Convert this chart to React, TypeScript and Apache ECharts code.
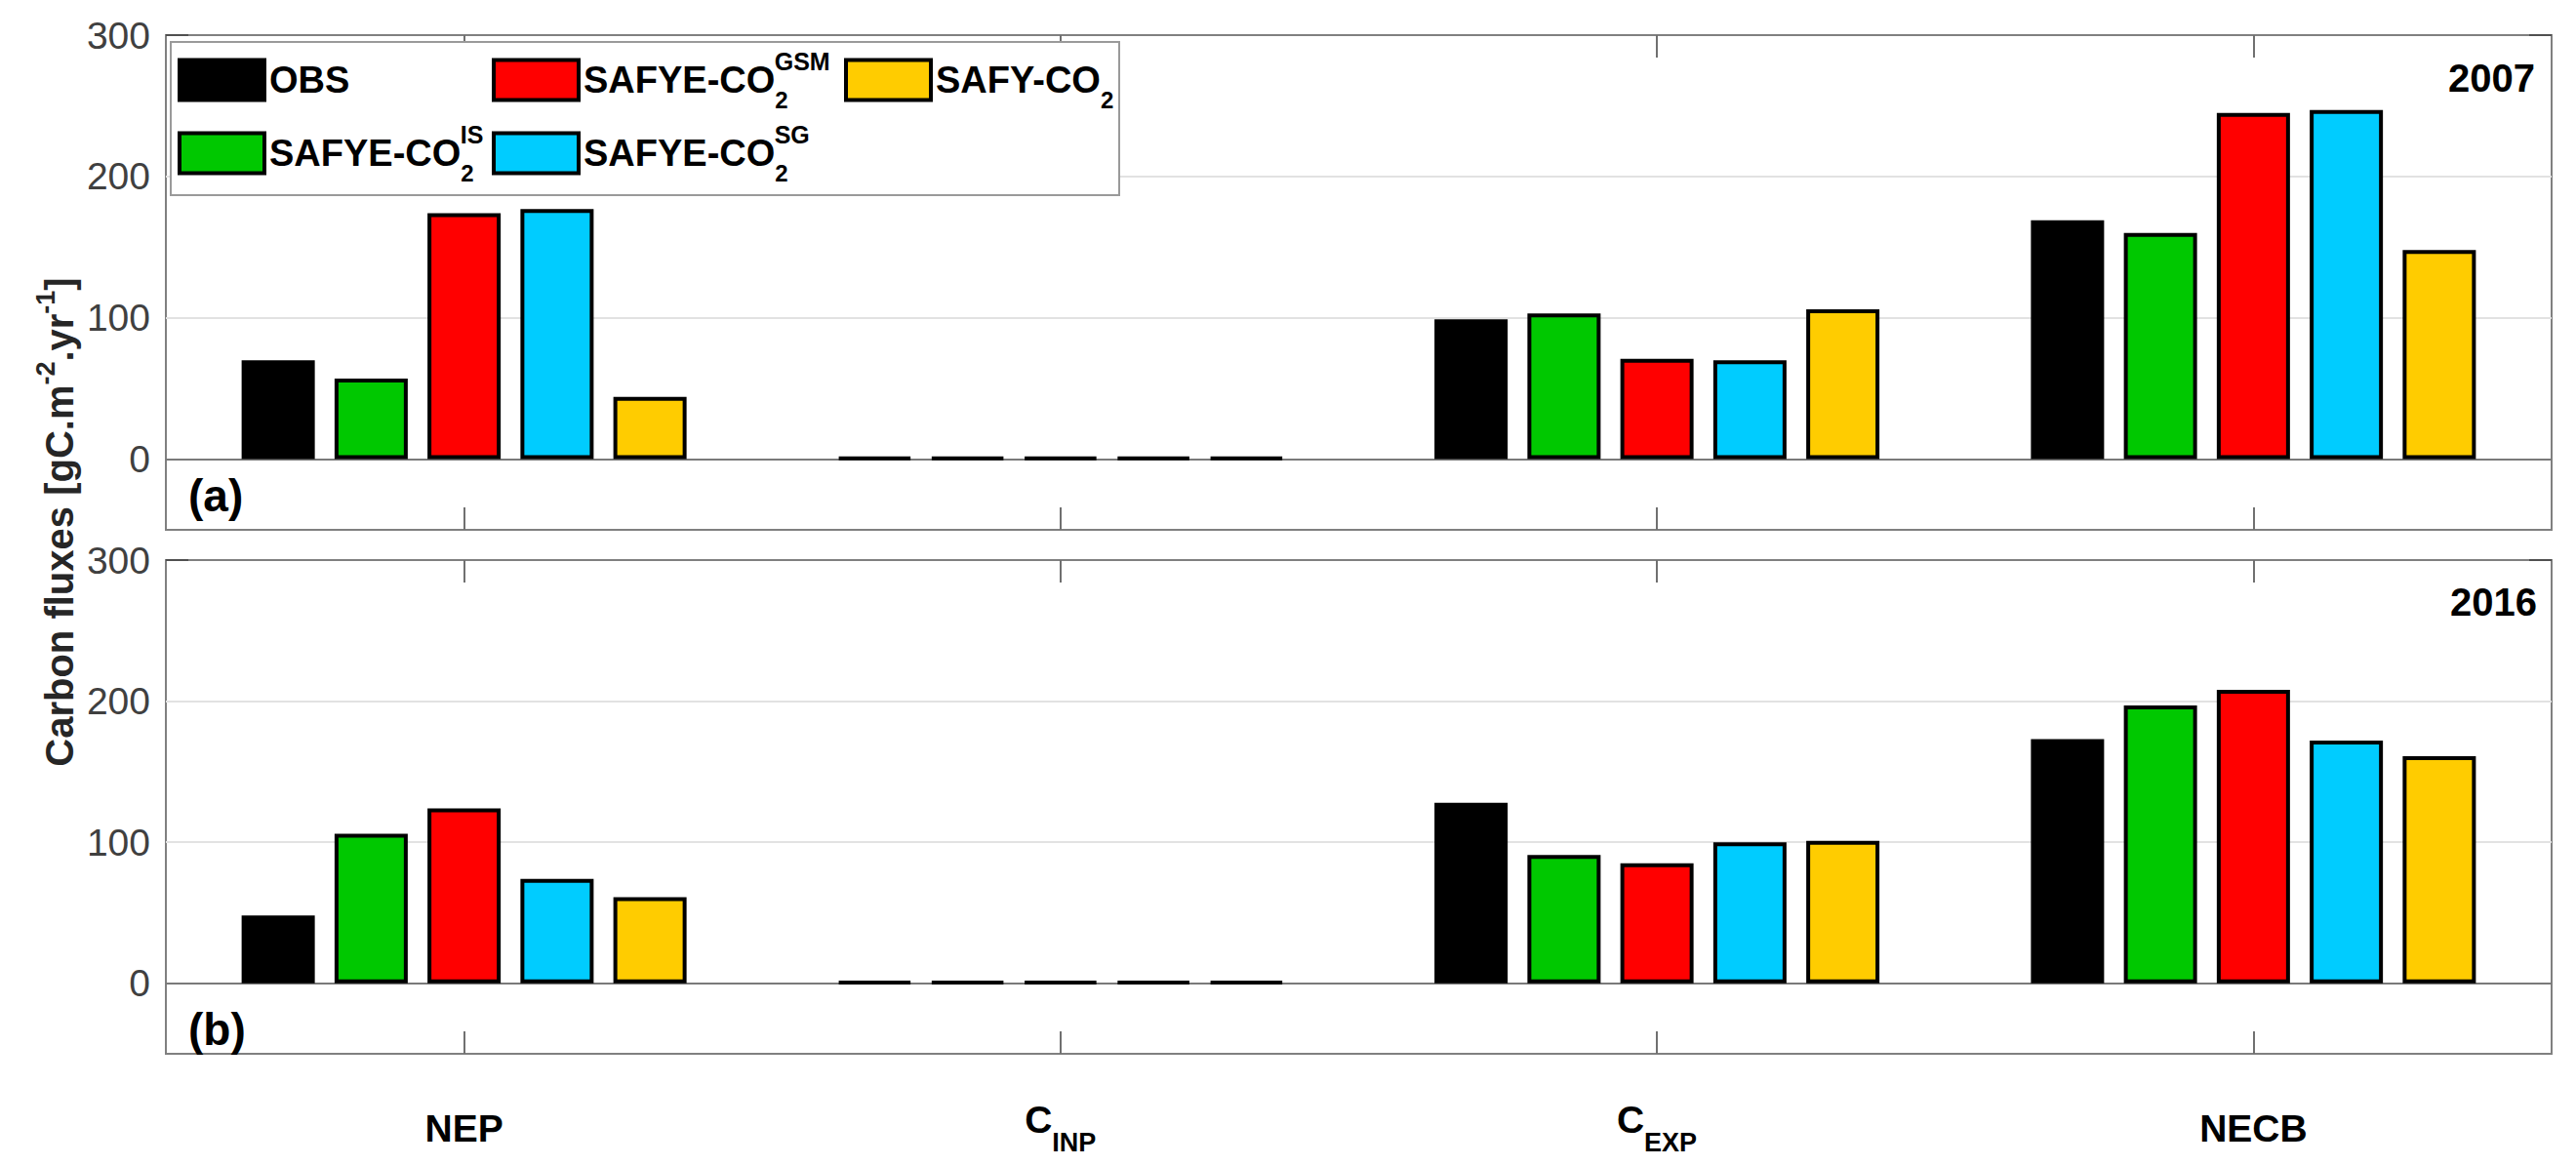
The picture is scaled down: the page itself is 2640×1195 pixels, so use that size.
import React, { useEffect, useRef } from 'react';
import * as echarts from 'echarts';

const categories = ['NEP', 'C_INP', 'C_EXP', 'NECB'];
const seriesNames = ['OBS', 'SAFYE-CO2-IS', 'SAFYE-CO2-GSM', 'SAFYE-CO2-SG', 'SAFY-CO2'];
const seriesColors = ['#000000', '#00C800', '#FF0000', '#00CCFF', '#FFCC00'];

// Panel (a) 2007
const obs2007 = [70, 1, 99, 169];
const is2007 = [57, 1, 103, 160];
const gsm2007 = [174, 1, 71, 245];
const sg2007 = [177, 1, 70, 247];
const safy2007 = [44, 1, 106, 148];

// Panel (b) 2016
const obs2016 = [48, 1, 128, 173];
const is2016 = [106, 1, 91, 197];
const gsm2016 = [124, 1, 85, 208];
const sg2016 = [74, 1, 100, 172];
const safy2016 = [61, 1, 101, 161];

const yLabelValues = [0, 100, 200, 300];
const gridValues = [100, 200];
const panelYears = ['2007', '2016'];
const panelTags = ['(a)', '(b)'];
const legendColumns = [
  ['OBS', 'SAFYE-CO2-IS'],
  ['SAFYE-CO2-GSM', 'SAFYE-CO2-SG'],
  ['SAFY-CO2'],
];

const FONT = '"Liberation Sans", Arial, Helvetica, sans-serif';

const legendLabel: Record<string, string> = {
  'OBS': '{m|OBS}',
  'SAFYE-CO2-IS': '{m|SAFYE-CO}{sub|2}{sup|IS}',
  'SAFYE-CO2-GSM': '{m|SAFYE-CO}{sub|2}{sup|GSM}',
  'SAFYE-CO2-SG': '{m|SAFYE-CO}{sub|2}{sup|SG}',
  'SAFY-CO2': '{m|SAFY-CO}{sub|2}',
};

const xLabel = (v: string) => {
  if (v.startsWith('C_')) return `{c|C}{s|${v.slice(2)}}{sp| }`;
  return `{n|${v}}`;
};

export default function App() {
  const ref = useRef<HTMLDivElement>(null);
  useEffect(() => {
    if (!ref.current) return;
    const chart = echarts.init(ref.current, undefined, { renderer: 'svg' });
    const panelData = [
      [obs2007, is2007, gsm2007, sg2007, safy2007],
      [obs2016, is2016, gsm2016, sg2016, safy2016],
    ];
    const grids = [
      { left: 170, top: 36, width: 2445, height: 507 },
      { left: 170, top: 574, width: 2445, height: 506 },
    ];
    const xAxes: any[] = [];
    const yAxes: any[] = [];
    const series: any[] = [];
    const tickX = { show: true, inside: true, length: 23, alignWithLabel: true, lineStyle: { color: '#707070', width: 2 } };
    const tickY = { show: true, inside: true, length: 23, customValues: yLabelValues, lineStyle: { color: '#505050', width: 2 } };
    grids.forEach((g, p) => {
      xAxes.push({
        gridIndex: p, type: 'category', data: categories, position: 'bottom',
        axisLine: { show: false, onZero: false }, axisTick: tickX, splitLine: { show: false },
        axisLabel: {
          show: p === 1, margin: 48, formatter: xLabel, color: '#000',
          rich: {
            n: { fontFamily: FONT, fontSize: 39, fontWeight: 'bold', color: '#000', lineHeight: 56, verticalAlign: 'middle' },
            c: { fontFamily: FONT, fontSize: 39, fontWeight: 'bold', color: '#000', lineHeight: 39, verticalAlign: 'top' },
            s: { fontFamily: FONT, fontSize: 27, fontWeight: 'bold', color: '#000', lineHeight: 35, verticalAlign: 'bottom' },
            sp: { fontSize: 1, lineHeight: 56 },
          },
        },
      });
      xAxes.push({
        gridIndex: p, type: 'category', data: categories, position: 'top',
        axisLine: { show: false, onZero: false }, axisTick: tickX, axisLabel: { show: false }, splitLine: { show: false },
      });
      yAxes.push({
        gridIndex: p, type: 'value', min: -50, max: 300, position: 'left',
        axisLine: { show: false, onZero: false }, axisTick: tickY, splitLine: { show: false },
        axisLabel: { customValues: yLabelValues, fontSize: 39, color: '#404040', margin: 16, fontFamily: FONT },
      });
      yAxes.push({
        gridIndex: p, type: 'value', min: -50, max: 300, position: 'right',
        axisLine: { show: false, onZero: false }, axisTick: tickY, splitLine: { show: false },
        axisLabel: { show: false },
      });
      panelData[p].forEach((vals, i) => {
        const s: any = {
          type: 'bar', name: seriesNames[i], xAxisIndex: p * 2, yAxisIndex: p * 2,
          data: vals, barWidth: 75, barGap: '27%', z: 2,
          itemStyle: { color: seriesColors[i], borderColor: '#000', borderWidth: 4 },
          emphasis: { disabled: true },
        };
        if (i === 0) {
          s.markLine = {
            silent: true, symbol: 'none', z: 1, animation: false,
            label: { show: false },
            data: [
              ...gridValues.map((v) => ({ yAxis: v, lineStyle: { color: '#e2e2e2', width: 2, type: 'solid' } })),
              { yAxis: 0, lineStyle: { color: '#7a7a7a', width: 2, type: 'solid' } },
            ],
          };
        }
        series.push(s);
      });
    });

    const legendRich = {
      m: { fontFamily: FONT, fontSize: 38, fontWeight: 'bold', color: '#000', lineHeight: 64, verticalAlign: 'middle' },
      sub: { fontFamily: FONT, fontSize: 24, fontWeight: 'bold', color: '#000', lineHeight: 20, verticalAlign: 'bottom' },
      sup: { fontFamily: FONT, fontSize: 25, fontWeight: 'bold', color: '#000', lineHeight: 37, verticalAlign: 'top', padding: [0, 0, 0, -14] },
    };
    const legendLefts = [182, 504, 865];
    const legends = legendColumns.map((col, k) => ({
      data: col, orient: 'vertical', left: legendLefts[k], top: 50, padding: 0,
      itemWidth: 87, itemHeight: 41, itemGap: 11, selectedMode: false, z: 5,
      icon: 'rect',
      itemStyle: { borderColor: '#000', borderWidth: 4 },
      formatter: (name: string) => legendLabel[name],
      textStyle: { fontFamily: FONT, fontSize: 38, fontWeight: 'bold', color: '#000', lineHeight: 64, rich: legendRich },
    }));

    const graphic: any[] = [
      { type: 'rect', z: 3, shape: { x: 175, y: 43, width: 972, height: 157 }, style: { fill: '#fff', stroke: '#9a9a9a', lineWidth: 2 } },
      {
        type: 'text', x: 57, y: 535, rotation: Math.PI / 2, z: 5,
        style: {
          text: '{a|Carbon fluxes [gC.m}{s|-2}{a|.yr}{s|-1}{a|]}',
          textAlign: 'center', textVerticalAlign: 'middle',
          rich: {
            a: { fontFamily: FONT, fontSize: 40, fontWeight: 'bold', fill: '#262626', lineHeight: 48, verticalAlign: 'bottom' },
            s: { fontFamily: FONT, fontSize: 27, fontWeight: 'bold', fill: '#262626', lineHeight: 27, verticalAlign: 'top' },
          },
        },
      },
    ];
    const yearPos = [{ x: 2598, y: 80 }, { x: 2600, y: 617 }];
    const tagPos = [{ x: 193, y: 508 }, { x: 193, y: 1055 }];
    panelYears.forEach((yr, p) => {
      graphic.push({ type: 'text', x: yearPos[p].x, y: yearPos[p].y, z: 5, style: { text: yr, fontFamily: FONT, fontSize: 40, fontWeight: 'bold', fill: '#000', textAlign: 'right', textVerticalAlign: 'middle' } });
      graphic.push({ type: 'text', x: tagPos[p].x, y: tagPos[p].y, z: 5, style: { text: panelTags[p], fontFamily: FONT, fontSize: 46, fontWeight: 'bold', fill: '#000', textAlign: 'left', textVerticalAlign: 'middle' } });
    });

    chart.setOption({
      animation: false,
      backgroundColor: '#fff',
      textStyle: { fontFamily: FONT },
      grid: grids.map((g) => ({ ...g, show: true, borderColor: '#808080', borderWidth: 2, backgroundColor: 'transparent' })),
      xAxis: xAxes,
      yAxis: yAxes,
      legend: legends,
      series,
      graphic,
    });
    return () => chart.dispose();
  }, []);
  return <div ref={ref} style={{ position: 'fixed', left: 0, top: 0, width: 2640, height: 1195 }} />;
}
